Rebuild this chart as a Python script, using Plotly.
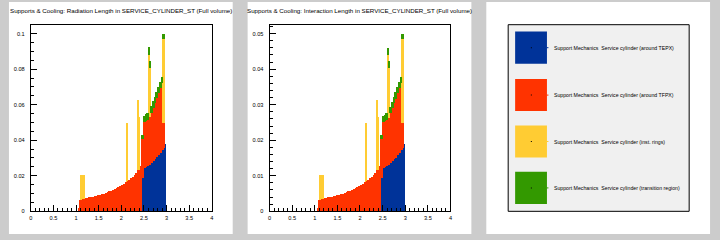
import plotly.graph_objects as go

# ---------------- data: eta bins of width 0.02 ----------------
bin_width = 0.02

# TEPX service cylinder (first bin at eta 2.44)
tepx_first = 2.44
x0_tepx = [0.0190, 0.0190, 0.0245, 0.0245, 0.0250, 0.0250, 0.0258, 0.0258, 0.0265, 0.0265,
           0.0275, 0.0275, 0.0285, 0.0285, 0.0295, 0.0295, 0.0305, 0.0305, 0.0318, 0.0318,
           0.0332, 0.0332, 0.0345, 0.0345, 0.0360, 0.0375, 0.0378]
l0_tepx = [0.0095, 0.0095, 0.0122, 0.0122, 0.0125, 0.0125, 0.0129, 0.0129, 0.0132, 0.0132,
           0.0137, 0.0137, 0.0142, 0.0142, 0.0147, 0.0147, 0.0152, 0.0152, 0.0159, 0.0159,
           0.0166, 0.0166, 0.0172, 0.0172, 0.0180, 0.0187, 0.0189]

# TFPX service cylinder (first bin at eta 1.06)
tfpx_first = 1.06
x0_tfpx = [0.0022,
           0.0068, 0.0068, 0.0070, 0.0070, 0.0072, 0.0072, 0.0075, 0.0075, 0.0077, 0.0077,
           0.0080, 0.0080, 0.0082, 0.0082, 0.0085, 0.0085, 0.0087, 0.0087, 0.0090, 0.0090,
           0.0093, 0.0093, 0.0095, 0.0095, 0.0098, 0.0098, 0.0102, 0.0102, 0.0106, 0.0106,
           0.0110, 0.0110, 0.0114, 0.0114, 0.0118, 0.0118, 0.0123, 0.0123, 0.0128, 0.0128,
           0.0133, 0.0133, 0.0139, 0.0139, 0.0145, 0.0145, 0.0150, 0.0150, 0.0157, 0.0157,
           0.0164, 0.0164, 0.0171, 0.0171, 0.0179, 0.0179, 0.0187, 0.0187, 0.0196, 0.0196,
           0.0206, 0.0206, 0.0218, 0.0218, 0.0235, 0.0235, 0.0255, 0.0255,
           0.0217, 0.0217, 0.0260, 0.0260, 0.0260, 0.0260, 0.0260, 0.0260, 0.0265, 0.0265,
           0.0280, 0.0280, 0.0298, 0.0298, 0.0315, 0.0315, 0.0332, 0.0332, 0.0347, 0.0347,
           0.0361, 0.0361, 0.0377, 0.0155, 0.0140]
l0_tfpx = [0.0011,
           0.0034, 0.0034, 0.0035, 0.0035, 0.0036, 0.0036, 0.00375, 0.00375, 0.00385, 0.00385,
           0.0040, 0.0040, 0.0041, 0.0041, 0.00425, 0.00425, 0.00435, 0.00435, 0.0045, 0.0045,
           0.00465, 0.00465, 0.00475, 0.00475, 0.0049, 0.0049, 0.0051, 0.0051, 0.0053, 0.0053,
           0.0055, 0.0055, 0.0057, 0.0057, 0.0059, 0.0059, 0.00615, 0.00615, 0.0064, 0.0064,
           0.00665, 0.00665, 0.00695, 0.00695, 0.00725, 0.00725, 0.0075, 0.0075, 0.00785, 0.00785,
           0.0082, 0.0082, 0.00855, 0.00855, 0.00895, 0.00895, 0.00935, 0.00935, 0.0098, 0.0098,
           0.0103, 0.0103, 0.0109, 0.0109, 0.01175, 0.01175, 0.01275, 0.01275,
           0.01085, 0.01085, 0.0130, 0.0130, 0.0130, 0.0130, 0.0130, 0.0130, 0.01325, 0.01325,
           0.0140, 0.0140, 0.0149, 0.0149, 0.01575, 0.01575, 0.0166, 0.0166, 0.01735, 0.01735,
           0.01805, 0.01805, 0.01885, 0.00775, 0.0070]

# instrumentation rings (sparse spikes)
eta_rings = [1.10, 1.12, 1.14, 1.16, 2.10, 2.12, 2.36, 2.38, 2.60, 2.62, 2.90, 2.92]
x0_rings = [0.0138, 0.0136, 0.0134, 0.0132, 0.0106, 0.0329, 0.0395, 0.0295, 0.0353, 0.0280, 0.0470, 0.0470]
l0_rings = [0.0069, 0.0068, 0.0067, 0.0066, 0.0053, 0.01645, 0.01975, 0.01475, 0.01765, 0.0140, 0.0235, 0.0235]

# transition region (first bin at eta 2.44)
trans_first = 2.44
x0_trans = [0.0023, 0.0023, 0.0035, 0.0035, 0.0037, 0.0037, 0.0037, 0.0037, 0.0041, 0.0036,
            0.0037, 0.0037, 0.0037, 0.0037, 0.0037, 0.0037, 0.0037, 0.0037, 0.0037, 0.0037,
            0.0037, 0.0037, 0.0038, 0.0030, 0.0030]
l0_trans = [0.0012, 0.0012, 0.0018, 0.0018, 0.0018, 0.0018, 0.0018, 0.0018, 0.0020, 0.0018,
            0.0018, 0.0018, 0.0018, 0.0018, 0.0018, 0.0018, 0.0018, 0.0018, 0.0018, 0.0018,
            0.0018, 0.0018, 0.0019, 0.0015, 0.0015]

series_names = [
    "Support Mechanics  Service cylinder (around TEPX)",
    "Support Mechanics  Service cylinder (around TFPX)",
    "Support Mechanics  Service cylinder (inst. rings)",
    "Support Mechanics  Service cylinder (transition region)",
]
colors = ["#003399", "#ff3300", "#ffcc33", "#339900"]
titles = [
    "Supports & Cooling: Radiation Length in SERVICE_CYLINDER_ST (Full volume)",
    "Supports & Cooling: Interaction Length in SERVICE_CYLINDER_ST (Full volume)",
]
x_ticks = [0, 0.5, 1, 1.5, 2, 2.5, 3, 3.5, 4]


def bin_lo(first, n):
    return [round(first + bin_width * i, 2) for i in range(n)]


def centers(los):
    return [round(e + bin_width / 2, 3) for e in los]


eta_tepx = bin_lo(tepx_first, len(x0_tepx))
eta_tfpx = bin_lo(tfpx_first, len(x0_tfpx))
eta_trans = bin_lo(trans_first, len(x0_trans))

W, H = 720, 240
def px(x):
    return x / W
def py(y):
    return 1 - y / H

FONT = "Liberation Sans, Arial, Helvetica, sans-serif"

fig = go.Figure()
panel_data = [
    [(eta_tepx, x0_tepx), (eta_tfpx, x0_tfpx), (eta_rings, x0_rings), (eta_trans, x0_trans)],
    [(eta_tepx, l0_tepx), (eta_tfpx, l0_tfpx), (eta_rings, l0_rings), (eta_trans, l0_trans)],
]
axes_ids = [("x", "y"), ("x2", "y2")]
for p, pdata in enumerate(panel_data):
    xa, ya = axes_ids[p]
    for k, (ex, vals) in enumerate(pdata):
        fig.add_trace(go.Bar(
            x=centers(ex), y=vals, width=bin_width,
            marker=dict(color=colors[k], line=dict(width=0)),
            xaxis=xa, yaxis=ya, showlegend=False, name=series_names[k],
        ))

# pad backgrounds
shapes = []
for (x0, x1) in [(7, 232), (247, 472), (487, 712)]:
    shapes.append(dict(type="rect", xref="paper", yref="paper", x0=px(x0), x1=px(x1),
                       y0=py(237), y1=py(2), fillcolor="white", line=dict(width=0), layer="below"))

# legend box
shapes.append(dict(type="rect", xref="paper", yref="paper", x0=px(509), x1=px(691),
                   y0=py(214), y1=py(25), fillcolor="#f0f0f0", line=dict(color="black", width=1), layer="above"))
annotations = []
entry_tops = [32, 80, 127, 174]
for k, t in enumerate(entry_tops):
    yc = t + 16.3
    shapes.append(dict(type="rect", xref="paper", yref="paper", x0=px(516), x1=px(548),
                       y0=py(t + 32.5), y1=py(t), fillcolor=colors[k], line=dict(width=0), layer="above"))
    shapes.append(dict(type="rect", xref="paper", yref="paper", x0=px(531.8), x1=px(532.8),
                       y0=py(yc + 0.5), y1=py(yc - 0.5), fillcolor="black", line=dict(width=0), layer="above"))
    shapes.append(dict(type="line", xref="paper", yref="paper", x0=px(548), x1=px(549.5),
                       y0=py(yc), y1=py(yc), line=dict(color=colors[k], width=1), layer="above"))
    annotations.append(dict(xref="paper", yref="paper", x=px(553.5), y=py(yc), text=series_names[k],
                            showarrow=False, xanchor="left", yanchor="middle",
                            font=dict(family=FONT, size=5.2, color="black")))

for p, cx in enumerate([119.5, 359.5]):
    annotations.append(dict(xref="paper", yref="paper", x=px(cx), y=py(10.7), text=titles[p],
                            showarrow=False, xanchor="center", yanchor="middle",
                            font=dict(family=FONT, size=6.2, color="black")))

common_x = dict(range=[0, 4], tickvals=x_ticks, showline=True, mirror=True, linecolor="black", linewidth=1,
                ticks="inside", ticklen=6, tickwidth=1, tickcolor="black",
                minor=dict(dtick=0.1, tick0=0, ticks="inside", ticklen=3, tickwidth=1, tickcolor="black"),
                showgrid=False, zeroline=False, tickfont=dict(family=FONT, size=5.6, color="black"),
                ticklabelstandoff=1, fixedrange=True)
common_y = dict(showline=True, mirror=True, linecolor="black", linewidth=1,
                ticks="inside", ticklen=6, tickwidth=1, tickcolor="black",
                showgrid=False, zeroline=False, tickfont=dict(family=FONT, size=5.6, color="black"),
                ticklabelstandoff=4, fixedrange=True)

ydom = [py(214), py(25)]
fig.update_layout(
    width=W, height=H, autosize=False,
    margin=dict(l=0, r=0, t=0, b=0),
    paper_bgcolor="#cccccc", plot_bgcolor="white",
    barmode="stack", bargap=0,
    xaxis=dict(domain=[px(29), px(211)], anchor="y", **common_x),
    yaxis=dict(domain=ydom, anchor="x", range=[0, 0.105], dtick=0.02, tick0=0,
               minor=dict(dtick=0.005, tick0=0, ticks="inside", ticklen=3, tickwidth=1, tickcolor="black"),
               **common_y),
    xaxis2=dict(domain=[px(269), px(451)], anchor="y2", **common_x),
    yaxis2=dict(domain=ydom, anchor="x2", range=[0, 0.0525], dtick=0.01, tick0=0,
                minor=dict(dtick=0.002, tick0=0, ticks="inside", ticklen=3, tickwidth=1, tickcolor="black"),
                **common_y),
    shapes=shapes, annotations=annotations,
    showlegend=False,
)

fig.write_html("out.html")
